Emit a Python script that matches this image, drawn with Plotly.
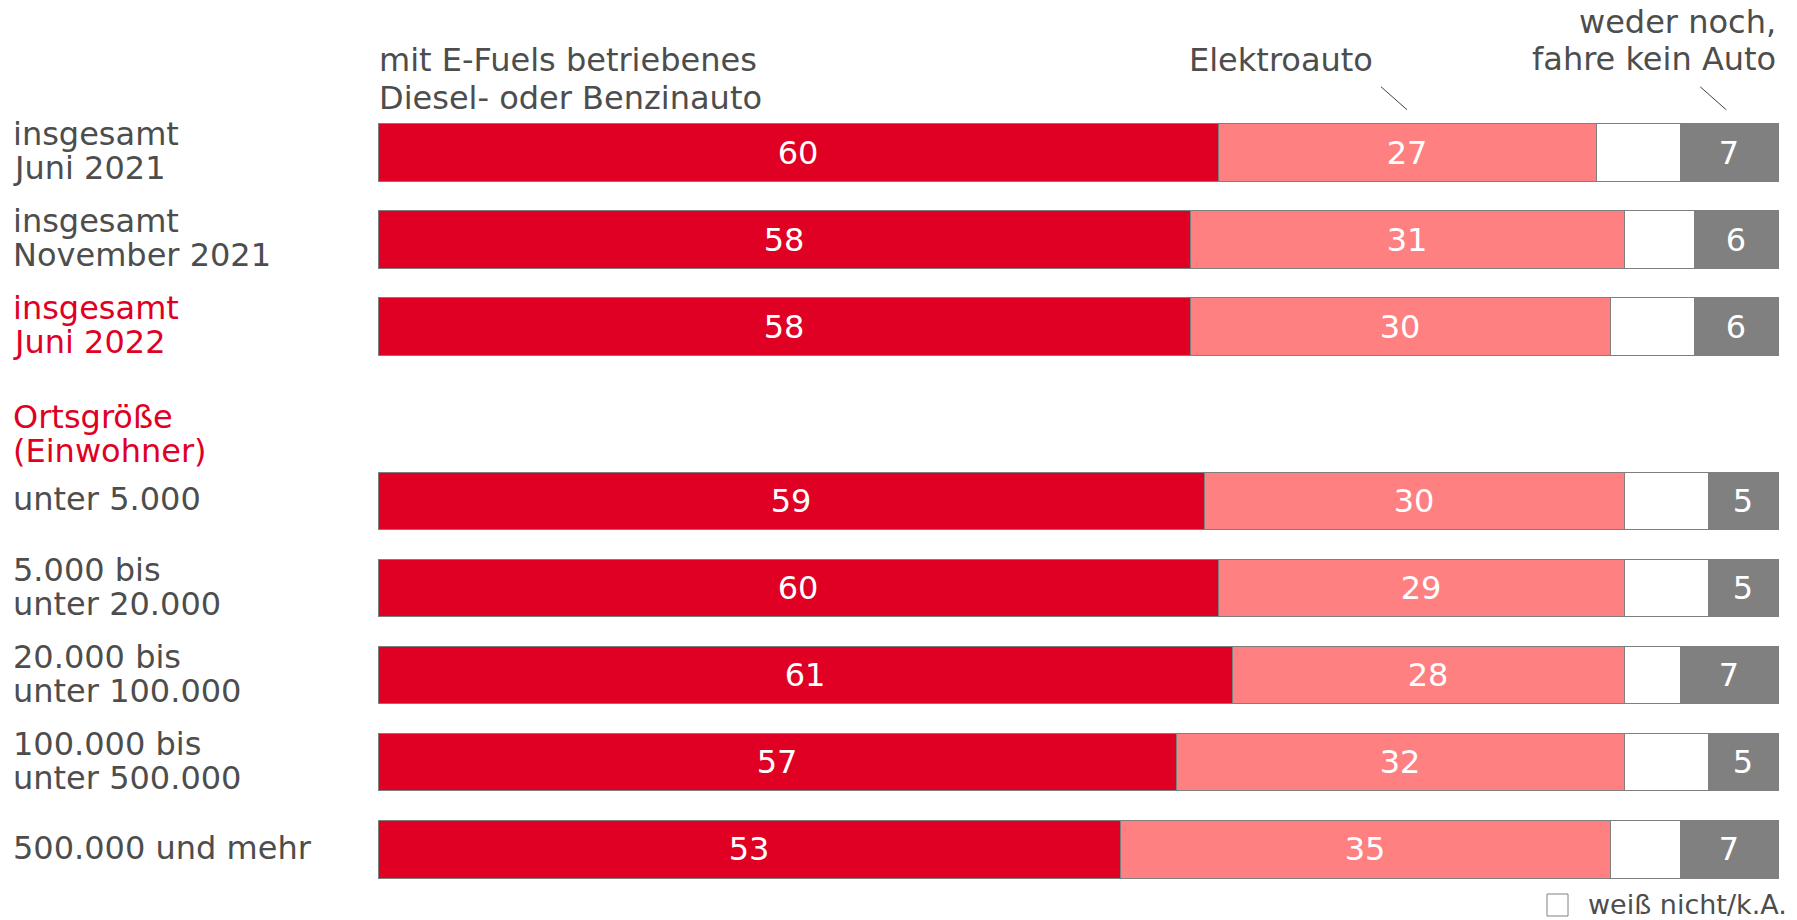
import plotly.graph_objects as go

# ---------------- data ----------------
row_labels = [
    ["insgesamt", "Juni 2021"],
    ["insgesamt", "November 2021"],
    ["insgesamt", "Juni 2022"],
    ["unter 5.000"],
    ["5.000 bis", "unter 20.000"],
    ["20.000 bis", "unter 100.000"],
    ["100.000 bis", "unter 500.000"],
    ["500.000 und mehr"],
]
row_slots = [0, 1, 2, 4, 5, 6, 7, 8]
efuels = [60, 58, 58, 59, 60, 61, 57, 53]
elektro = [27, 31, 30, 30, 29, 28, 32, 35]
weiss_nicht = [6, 5, 6, 6, 6, 4, 6, 5]
weder = [7, 6, 6, 5, 5, 7, 5, 7]

header_efuels = ["mit E-Fuels betriebenes", "Diesel- oder Benzinauto"]
header_elektro = "Elektroauto"
header_weder = ["weder noch,", "fahre kein Auto"]
group_label = ["Ortsgröße", "(Einwohner)"]
legend_label = "weiß nicht/k.A."

# ---------------- style ----------------
RED = "#E00024"
PINK = "#FF8080"
GRAY = "#808080"
WHITE = "#FFFFFF"
TEXT = "#4D4D4D"
EDGE = "#7F7F7F"
FONT = "DejaVu Sans"
FS = 32

# page (window) geometry; the page body has an 8px margin
PAGE_W, PAGE_H = 1797, 920
BODY_M = 8
W, H = PAGE_W - BODY_M, PAGE_H - BODY_M

X0_PX, PX_PER_X = 378, 14.0          # x=0 at 378px (page), 14px per percent
SLOT0_PX, PX_PER_SLOT = 152.5, 87.1  # first row centre (page px), row pitch

def x_of(px):
    return (px - X0_PX) / PX_PER_X

def y_of(py):
    return (py - SLOT0_PX) / PX_PER_SLOT

x_range = [x_of(BODY_M), x_of(PAGE_W)]
y_range = [y_of(PAGE_H), y_of(BODY_M)]  # reversed

BAR_W = 0.66

fig = go.Figure()
for vals, col, show_text in [
    (efuels, RED, True),
    (elektro, PINK, True),
    (weiss_nicht, WHITE, False),
    (weder, GRAY, True),
]:
    fig.add_trace(go.Bar(
        y=row_slots, x=vals, orientation="h", width=BAR_W,
        marker=dict(color=col, line=dict(color=EDGE, width=1)),
        text=[str(v) for v in vals] if show_text else None,
        textposition="inside" if show_text else "none",
        insidetextanchor="middle",
        textfont=dict(color="white", size=FS, family=FONT),
        constraintext="none",
        hoverinfo="skip",
        showlegend=False,
    ))

annotations = []

def add_text(x, y, text, color=TEXT, size=FS, xanchor="left"):
    annotations.append(dict(x=x, y=y, xref="x", yref="y", text=text, showarrow=False,
                            xanchor=xanchor, yanchor="middle",
                            font=dict(family=FONT, size=size, color=color)))

label_x = x_of(11)
line_off = 17 / PX_PER_SLOT
up = 1.5 / PX_PER_SLOT
for i, (lines, slot) in enumerate(zip(row_labels, row_slots)):
    col = RED if i == 2 else TEXT
    if len(lines) == 1:
        add_text(label_x, slot - up, lines[0], col)
    else:
        add_text(label_x, slot - line_off - up, lines[0], col)
        add_text(label_x, slot + line_off - up, lines[1], col)

# group heading
add_text(label_x, 3 + 3 / PX_PER_SLOT, group_label[0], RED)
add_text(label_x, 3 + 37 / PX_PER_SLOT, group_label[1], RED)

# column headers
add_text(x_of(377), y_of(59.5), header_efuels[0])
add_text(x_of(377), y_of(98), header_efuels[1])
add_text(x_of(1375), y_of(59.5), header_elektro, xanchor="right")
add_text(x_of(1778), y_of(22), header_weder[0], xanchor="right")
add_text(x_of(1778), y_of(59), header_weder[1], xanchor="right")

# legend for white segment
add_text(x_of(1586), y_of(904), legend_label, size=27)

shapes = []
# leader lines
bar_top = row_slots[0] - BAR_W / 2
tip_y = bar_top - 14 / PX_PER_SLOT
tail_y = tip_y - 23 / PX_PER_SLOT
dx = 26 / PX_PER_X
for cx in [efuels[0] + elektro[0] / 2, 100 - weder[0] / 2 - 0.2]:
    shapes.append(dict(type="line", xref="x", yref="y", x0=cx - dx, y0=tail_y, x1=cx, y1=tip_y,
                       line=dict(color="#404040", width=1)))
# legend square
shapes.append(dict(type="rect", xref="x", yref="y", x0=x_of(1547), x1=x_of(1568),
                   y0=y_of(894), y1=y_of(916), fillcolor=WHITE, line=dict(color=GRAY, width=1)))

fig.update_layout(
    width=W, height=H,
    margin=dict(l=0, r=0, t=0, b=0),
    barmode="stack",
    plot_bgcolor="white", paper_bgcolor="white",
    xaxis=dict(range=x_range, visible=False, fixedrange=True),
    yaxis=dict(range=y_range, visible=False, fixedrange=True),
    annotations=annotations,
    shapes=shapes,
    font=dict(family=FONT, color=TEXT),
)

fig.write_html("out.html")
